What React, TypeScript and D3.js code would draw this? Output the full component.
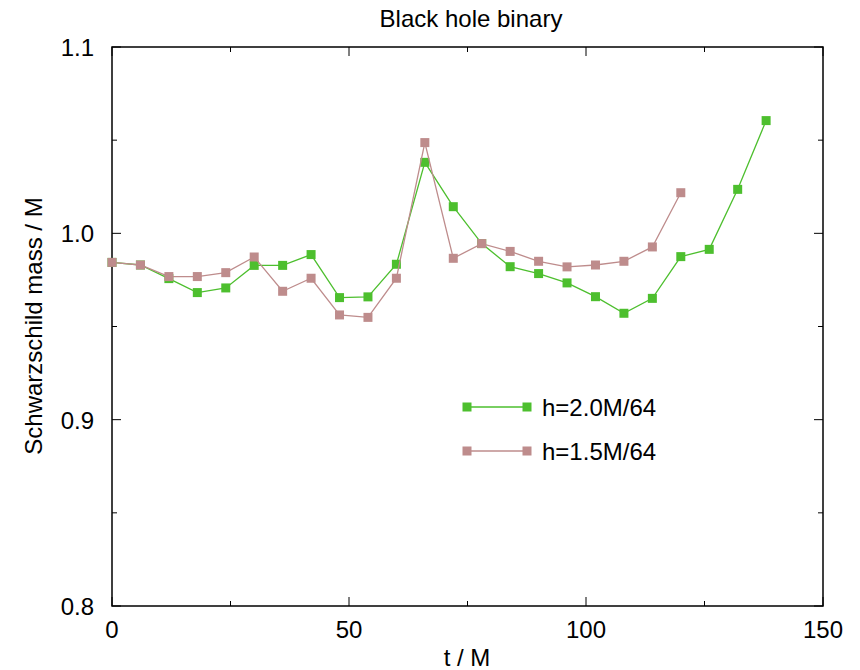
import React from "react";
import * as d3 from "d3";

const tValuesA = [0, 6, 12, 18, 24, 30, 36, 42, 48, 54, 60, 66, 72, 78, 84, 90, 96, 102, 108, 114, 120, 126, 132, 138];
const massA = [0.9844, 0.983, 0.9757, 0.9682, 0.9707, 0.9828, 0.9828, 0.9886, 0.9655, 0.9659, 0.9834, 1.0381, 1.0143, 0.9945, 0.9821, 0.9784, 0.9734, 0.966, 0.9571, 0.9651, 0.9875, 0.9914, 1.0236, 1.0605];
const tValuesB = [0, 6, 12, 18, 24, 30, 36, 42, 48, 54, 60, 66, 72, 78, 84, 90, 96, 102, 108, 114, 120];
const massB = [0.9844, 0.983, 0.9768, 0.9768, 0.9789, 0.9873, 0.9689, 0.9759, 0.9562, 0.9549, 0.9759, 1.0487, 0.9866, 0.9945, 0.9903, 0.985, 0.982, 0.983, 0.985, 0.9927, 1.0218];
const seriesNames = ["h=2.0M/64", "h=1.5M/64"];
const seriesColors = ["#4dbf2e", "#be8c8c"];
const xMajorTicks = [0, 50, 100, 150];
const xMinorTicks = [25, 75, 125];
const yMajorTicks = [0.8, 0.9, 1.0, 1.1];
const yMinorTicks = [0.85, 0.95, 1.05];
const title = "Black hole binary";
const xLabel = "t / M";
const yLabel = "Schwarzschild mass / M";

export default function App() {
  const W = 860, H = 670;
  const L = 112, R = 823, T = 47, B = 606;
  const x = d3.scaleLinear().domain([0, 150]).range([L, R]);
  const y = d3.scaleLinear().domain([0.8, 1.1]).range([B, T]);
  const font = "'Liberation Sans', Arial, Helvetica, sans-serif";
  const fs = 24;
  const major = 9, minor = 5;
  const series = [
    { t: tValuesA, m: massA, name: seriesNames[0], color: seriesColors[0] },
    { t: tValuesB, m: massB, name: seriesNames[1], color: seriesColors[1] },
  ];
  const line = d3.line<[number, number]>().x((d) => x(d[0])).y((d) => y(d[1]));
  const ms = 9;
  const fmtY = (v: number) => d3.format(".1f")(v);
  return (
    <svg width={W} height={H} style={{ position: "absolute", left: 0, top: 0 }} fontFamily={font}>
      <rect width={W} height={H} fill="#fff" />
      <text x={471} y={27} fontSize={fs} textAnchor="middle" fill="#000">{title}</text>
      <g stroke="#000" strokeWidth={1}>
        {xMajorTicks.map((v) => (
          <g key={"xM" + v}>
            <line x1={x(v)} x2={x(v)} y1={B} y2={B - major} />
            <line x1={x(v)} x2={x(v)} y1={T} y2={T + major} />
          </g>
        ))}
        {xMinorTicks.map((v) => (
          <g key={"xm" + v}>
            <line x1={x(v)} x2={x(v)} y1={B} y2={B - minor} />
            <line x1={x(v)} x2={x(v)} y1={T} y2={T + minor} />
          </g>
        ))}
        {yMajorTicks.map((v) => (
          <g key={"yM" + v}>
            <line x1={L} x2={L + major} y1={y(v)} y2={y(v)} />
            <line x1={R} x2={R - major} y1={y(v)} y2={y(v)} />
          </g>
        ))}
        {yMinorTicks.map((v) => (
          <g key={"ym" + v}>
            <line x1={L} x2={L + minor} y1={y(v)} y2={y(v)} />
            <line x1={R} x2={R - minor} y1={y(v)} y2={y(v)} />
          </g>
        ))}
      </g>
      <rect x={L} y={T} width={R - L} height={B - T} fill="none" stroke="#000" strokeWidth={1.5} />
      {xMajorTicks.map((v) => (
        <text key={"xl" + v} x={x(v)} y={638} fontSize={fs} textAnchor="middle" fill="#000">{v}</text>
      ))}
      {yMajorTicks.map((v) => (
        <text key={"yl" + v} x={94} y={y(v) + 9} fontSize={fs} textAnchor="end" fill="#000">{fmtY(v)}</text>
      ))}
      <text x={467} y={666} fontSize={fs} textAnchor="middle" fill="#000">{xLabel}</text>
      <text transform={`translate(42,326) rotate(-90)`} fontSize={fs} textAnchor="middle" fill="#000">{yLabel}</text>
      {series.map((s, i) => {
        const pts: [number, number][] = s.t.map((t, j) => [t, s.m[j]]);
        return (
          <g key={"s" + i}>
            <path d={line(pts) || ""} fill="none" stroke={s.color} strokeWidth={1.3} />
            {pts.map((p, j) => (
              <rect key={j} x={x(p[0]) - ms / 2} y={y(p[1]) - ms / 2} width={ms} height={ms} fill={s.color} />
            ))}
          </g>
        );
      })}
      {series.map((s, i) => {
        const ly = 407 + i * 44;
        return (
          <g key={"lg" + i}>
            <line x1={467} x2={527} y1={ly} y2={ly} stroke={s.color} strokeWidth={1.3} />
            <rect x={467 - ms / 2} y={ly - ms / 2} width={ms} height={ms} fill={s.color} />
            <rect x={527 - ms / 2} y={ly - ms / 2} width={ms} height={ms} fill={s.color} />
            <text x={542} y={ly + 9} fontSize={fs} fill="#000">{s.name}</text>
          </g>
        );
      })}
    </svg>
  );
}
